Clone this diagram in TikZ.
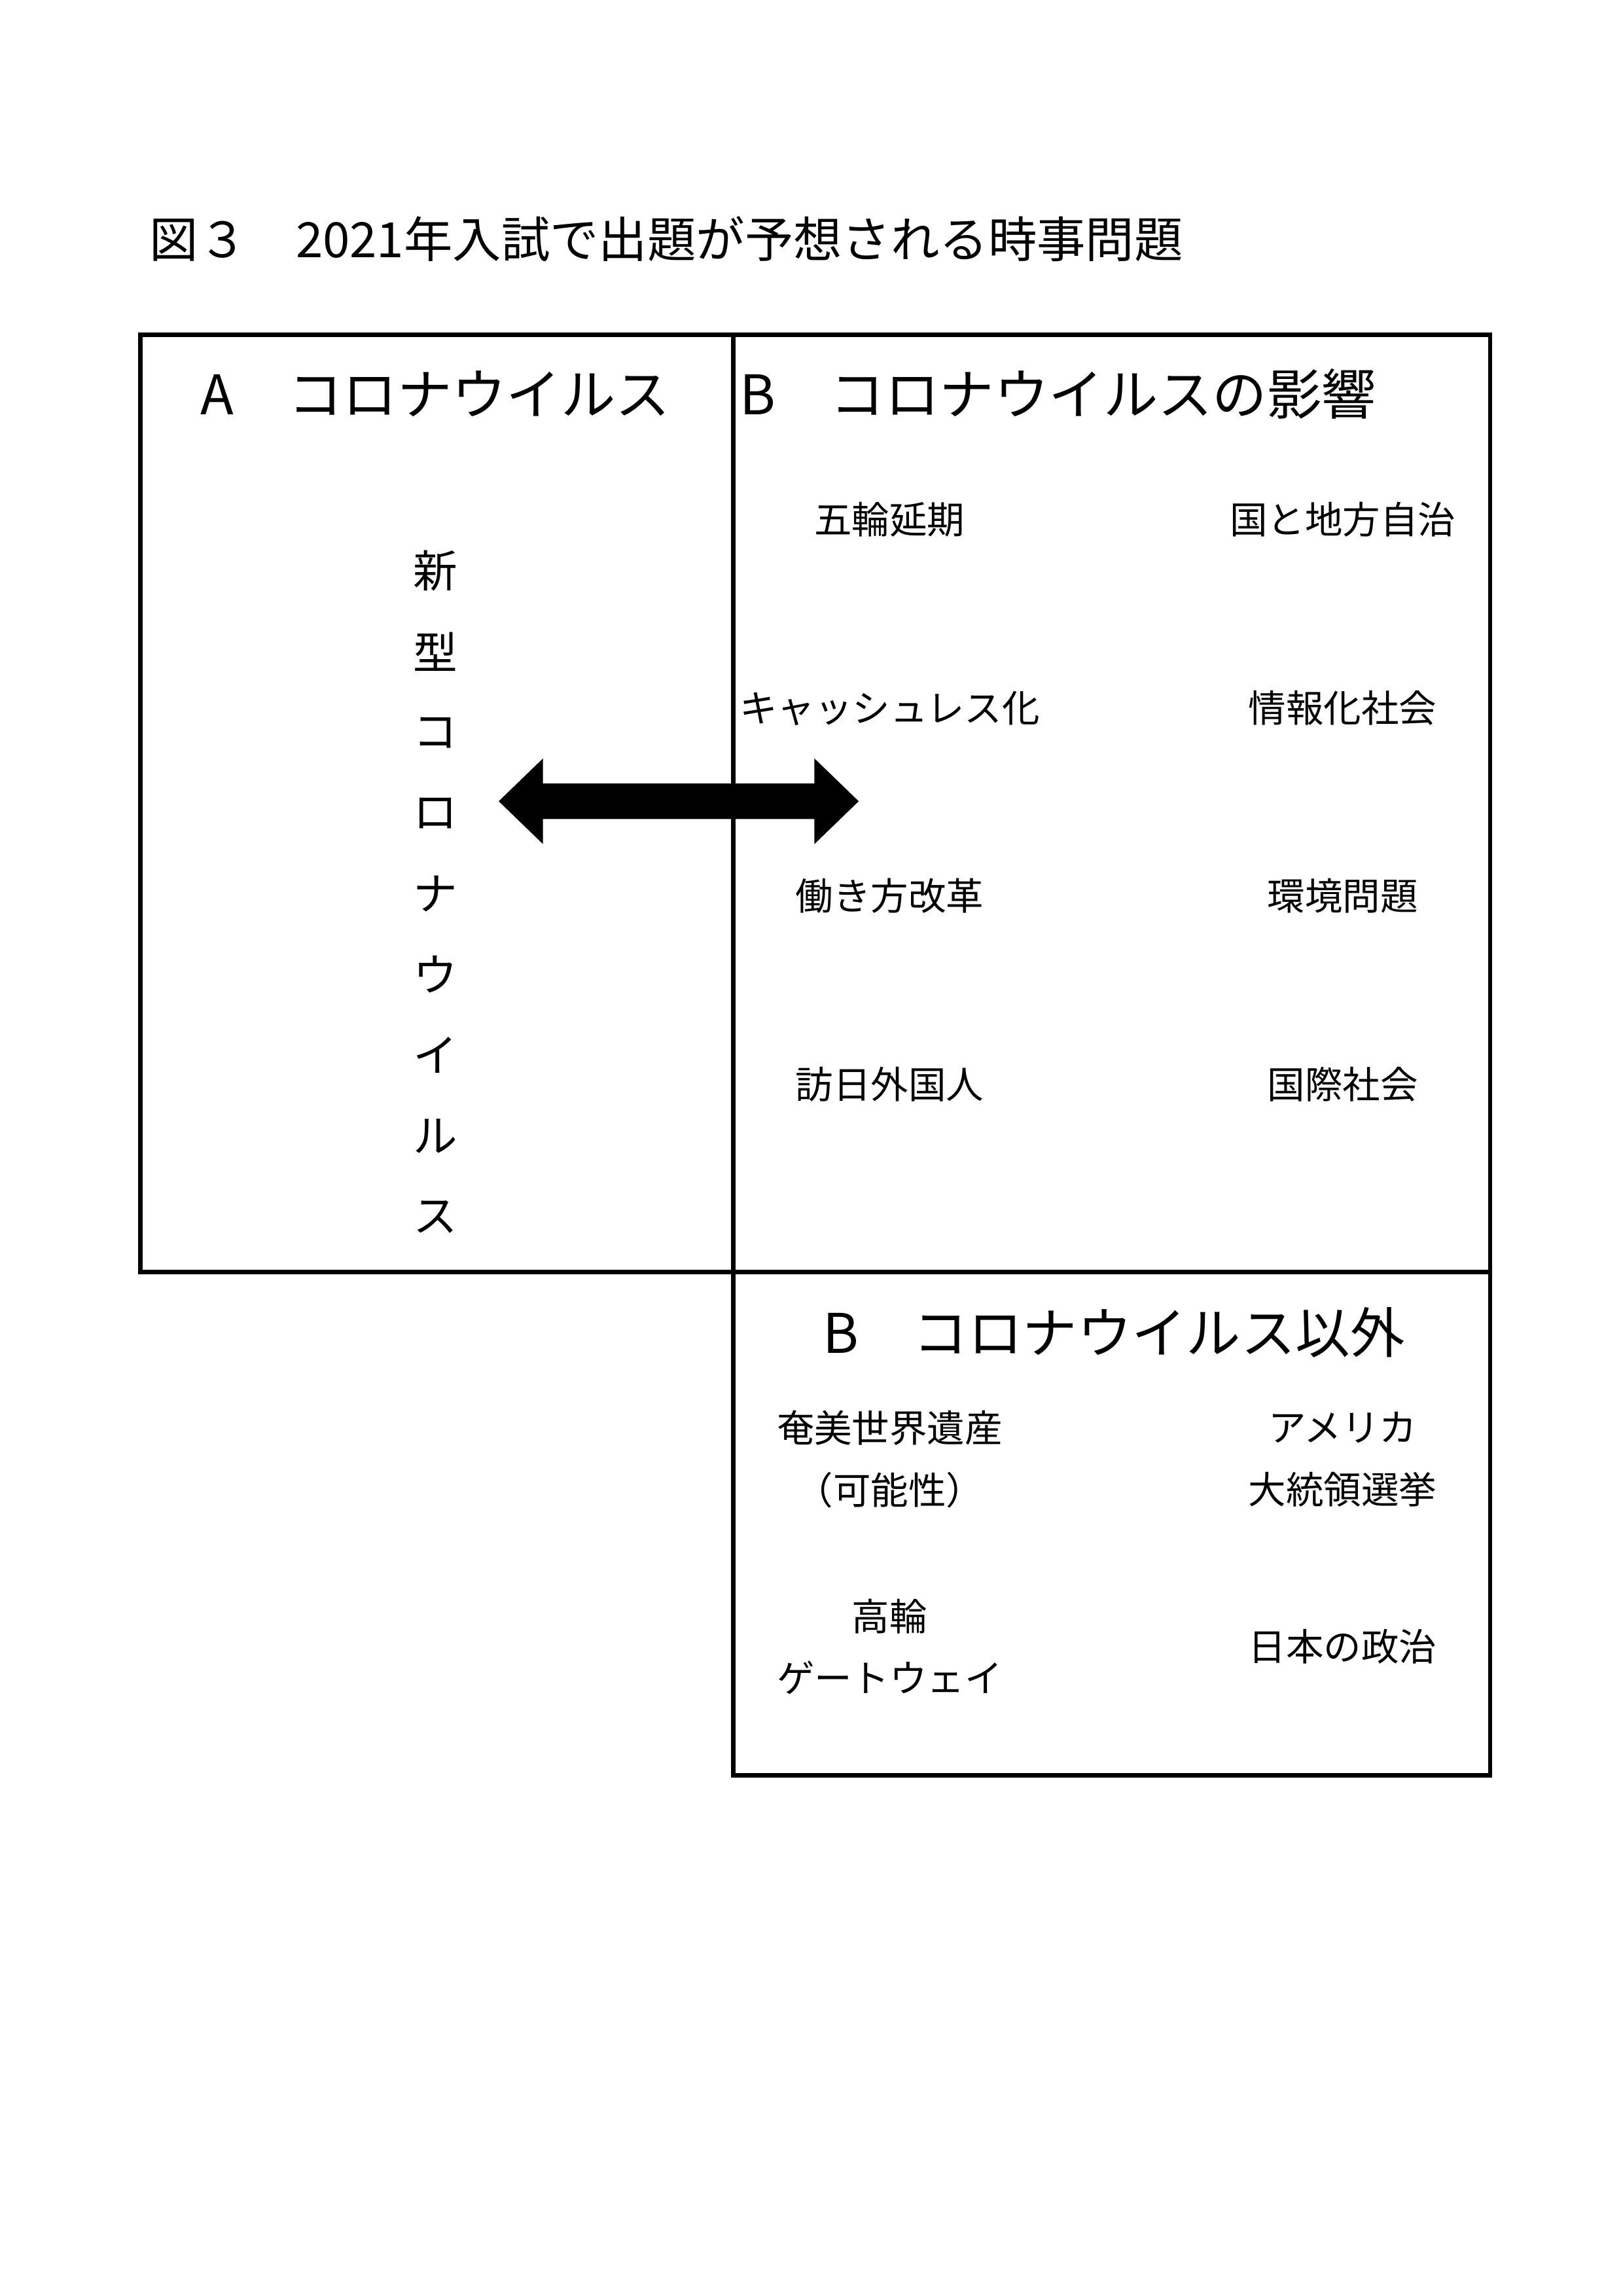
\documentclass[tikz,border=0pt]{standalone}
\usepackage{fontspec}
\setmainfont{Noto Sans CJK JP}
\begin{document}
\begin{tikzpicture}[x=1pt,y=-1pt,
  box/.style={line width=3pt},
  item/.style={font=\fontsize{25.5}{42}\selectfont,align=center},
  head/.style={font=\fontsize{37}{42}\selectfont},
  vt/.style={font=\fontsize{30}{34}\selectfont}]
\useasboundingbox (0,0) rectangle (1100,1556);
\node[anchor=west,font=\fontsize{33}{38}\selectfont] (title) at (98,162) {図３　2021年入試で出題が予想される時事問題};
\draw[box] (95,227) rectangle (497,862);
\draw[box] (497,227) rectangle (1010,862);
\draw[box] (497,862) rectangle (1010,1203);
\node[head] (ha) at (295,267) {A　コロナウイルス};
\node[head,anchor=west] (hb) at (498,267) {B　コロナウイルスの影響};
\node[head] (hc) at (755,903) {B　コロナウイルス以外};
\foreach \c [count=\i from 0] in {新,型,コ,ロ,ナ,ウ,イ,ル,ス}
  \node[vt] (v\i) at (295,{387+54.7*\i}) {\c};
\node[item] (i1) at (603,352) {五輪延期};
\node[item] (i2) at (910,352) {国と地方自治};
\node[item] (i3) at (603,480) {キャッシュレス化};
\node[item] (i4) at (910,480) {情報化社会};
\node[item] (i5) at (603,607) {働き方改革};
\node[item] (i6) at (910,607) {環境問題};
\node[item] (i7) at (603,735) {訪日外国人};
\node[item] (i8) at (910,735) {国際社会};
\node[item] (c1) at (603,989) {奄美世界遺産\\（可能性）};
\node[item] (c2) at (910,989) {アメリカ\\大統領選挙};
\node[item] (c3) at (603,1116) {高輪\\ゲートウェイ};
\node[item] (c4) at (910,1116) {日本の政治};
\fill (338,543) -- (368,514) -- (368,531) -- (552,531) -- (552,514) -- (582,543) -- (552,572) -- (552,555) -- (368,555) -- (368,572) -- cycle;
\end{tikzpicture}
\end{document}
